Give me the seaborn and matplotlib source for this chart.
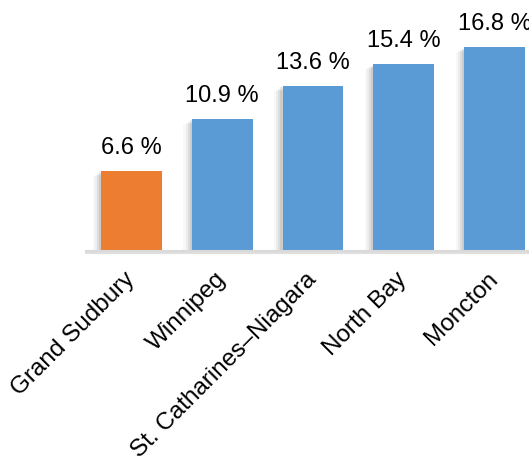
import matplotlib
matplotlib.use("Agg")
import matplotlib.pyplot as plt
import matplotlib.patheffects as pe
import seaborn as sns
import pandas as pd

categories = ["Grand Sudbury", "Winnipeg", "St. Catharines\u2013Niagara", "North Bay", "Moncton"]
values = [6.6, 10.9, 13.6, 15.4, 16.8]
value_labels = ["6.6 %", "10.9 %", "13.6 %", "15.4 %", "16.8 %"]
colors = ["#ED7D31", "#5B9BD5", "#5B9BD5", "#5B9BD5", "#5B9BD5"]

sns.set_theme(style="white")
plt.rcParams["font.family"] = ["Liberation Sans", "DejaVu Sans"]

df = pd.DataFrame({"city": categories, "value": values})

fig = plt.figure(figsize=(5.29, 4.57), dpi=100)
ax = fig.add_axes([86 / 529, 206 / 457, (529 - 86) / 529, 251 / 457])

sns.barplot(data=df, x="city", y="value", hue="city", palette=colors,
            width=0.67, legend=False, ax=ax, saturation=1)

shadow = [pe.SimplePatchShadow(offset=(-1.5, -1), shadow_rgbFace="gray", alpha=0.18),
          pe.SimplePatchShadow(offset=(-3, -2), shadow_rgbFace="gray", alpha=0.14),
          pe.SimplePatchShadow(offset=(-4.5, -3), shadow_rgbFace="gray", alpha=0.09),
          pe.SimplePatchShadow(offset=(-6, -3.5), shadow_rgbFace="gray", alpha=0.05),
          pe.Normal()]
for p in ax.patches:
    p.set_path_effects(shadow)
    p.set_linewidth(0)

for i, (v, lab) in enumerate(zip(values, value_labels)):
    ax.annotate(lab, (i, v), xytext=(0, 8.5), textcoords="offset points",
                ha="center", va="bottom", fontsize=17, color="#000000")

ax.set_xlim(-0.5, 4.38)
ax.set_ylim(0, 20.7)
ax.set_xlabel("")
ax.set_ylabel("")
ax.set_yticks([])
for s in ["left", "right", "top"]:
    ax.spines[s].set_visible(False)
ax.spines["bottom"].set_color("#D9D9D9")
ax.spines["bottom"].set_linewidth(1.5)
ax.spines["bottom"].set_path_effects([pe.SimpleLineShadow(offset=(0, -1.5), shadow_color="gray", alpha=0.25), pe.Normal()])

ax.set_xticks(range(len(categories)))
ax.set_xticklabels(categories, rotation=45, ha="right", va="center",
                   rotation_mode="anchor", fontsize=17.5, color="#000000")
ax.tick_params(axis="x", length=0, pad=18)

fig.savefig("out.png", dpi=100)
